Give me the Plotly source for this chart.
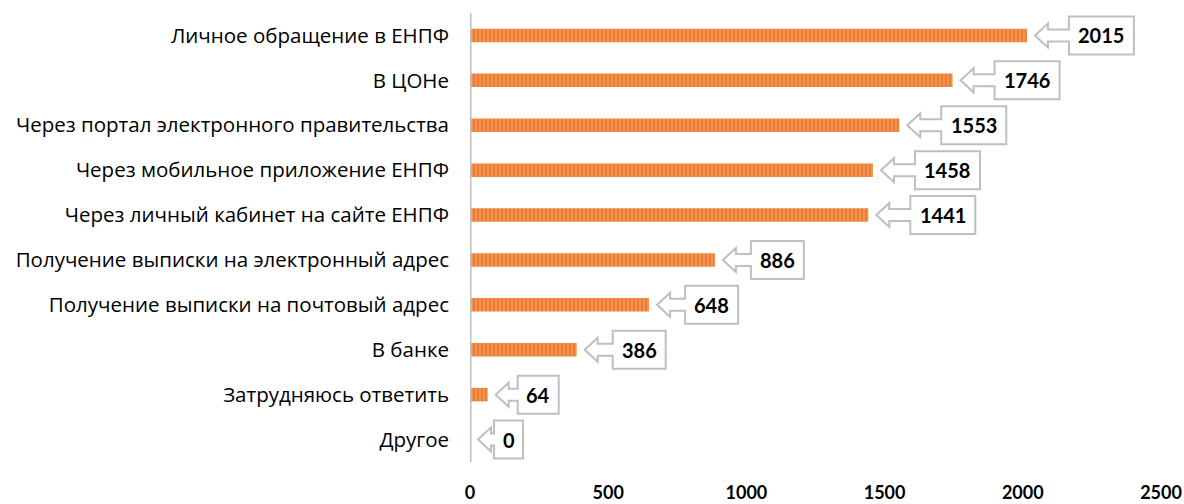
import plotly.graph_objects as go

# data, top row first
categories = [
    'Личное обращение в ЕНПФ',
    'В ЦОНе',
    'Через портал электронного правительства',
    'Через мобильное приложение ЕНПФ',
    'Через личный кабинет на сайте ЕНПФ',
    'Получение выписки на электронный адрес',
    'Получение выписки на почтовый адрес',
    'В банке',
    'Затрудняюсь ответить',
    'Другое',
]
values = [2015, 1746, 1553, 1458, 1441, 886, 648, 386, 64, 0]
x_ticks = [0, 500, 1000, 1500, 2000, 2500]

ORANGE = '#ED7D31'
GREY = '#BFBFBF'

fig = go.Figure(go.Bar(
    x=values, y=categories, orientation='h',
    marker=dict(color=ORANGE, line=dict(width=0),
                pattern=dict(shape='|', fgcolor='#F8B586', bgcolor=ORANGE,
                             size=4, solidity=0.4)),
    width=0.3,
))

# callout label: arrow pointing at bar end + box with the number
shapes = []
annotations = []
for cat, v in zip(categories, values):
    n = len(str(v))
    w = 12 * n + 17          # box width in px
    L = 10 + 6 * n           # arrow length in px
    tip, head = 8, 21
    bx = tip + L
    path = (f'M {tip},0 L {head},12 L {head},6 L {bx},6 L {bx},19 '
            f'L {bx + w},19 L {bx + w},-19 L {bx},-19 L {bx},-6 '
            f'L {head},-6 L {head},-12 Z')
    shapes.append(dict(type='path', path=path, xref='x', yref='y',
                       xsizemode='pixel', ysizemode='pixel',
                       xanchor=v, yanchor=cat,
                       line=dict(color=GREY, width=2), fillcolor='white',
                       layer='above'))
    annotations.append(dict(x=v, y=cat, xref='x', yref='y', text=f'<b>{v}</b>',
                            showarrow=False, xanchor='center',
                            xshift=bx + w / 2, yshift=0,
                            font=dict(family='Lato', size=20, color='black')))

# vertical axis line
shapes.append(dict(type='line', xref='x', yref='paper', x0=0, x1=0, y0=0, y1=1,
                   line=dict(color=GREY, width=3), layer='above'))

fig.update_layout(
    width=1184, height=504,
    margin=dict(l=470, r=23, t=12.5, b=41.5),
    plot_bgcolor='white', paper_bgcolor='white',
    showlegend=False,
    shapes=shapes, annotations=annotations,
    font=dict(family='Open Sans', color='black'),
)
fig.update_xaxes(range=[0, 2500], tickvals=x_ticks,
                 ticktext=[f'<b>{t}</b>' for t in x_ticks],
                 tickfont=dict(size=18, family='Lato', color='black'),
                 showgrid=False, zeroline=False, showline=False,
                 ticklabelstandoff=18, automargin=False)
fig.update_yaxes(range=[9.5, -0.5], showgrid=False, zeroline=False,
                 showline=False, ticks='', ticklabelstandoff=20,
                 automargin=False,
                 tickfont=dict(size=20.5, family='Open Sans', color='black'))

# drop the default body margin so the figure sits at the window's corner
fig.write_html('out.html', config={'displayModeBar': False},
               post_script="document.body.style.margin='0';")
